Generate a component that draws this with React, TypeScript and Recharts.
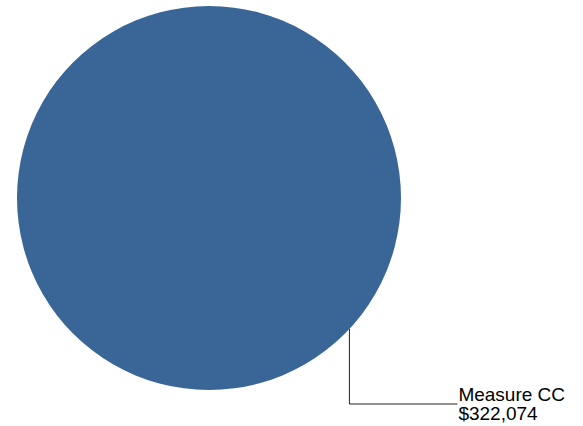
import { PieChart, Pie, Cell } from 'recharts';

const categories = ['Measure CC'];
const values = [322074];
const colors = ['#3A6697'];

const data = categories.map((name, i) => ({ name, value: values[i] }));

const fmt = (v: number) => '$' + v.toLocaleString('en-US');

const RAD = Math.PI / 180;

const renderLabel = (props: any) => {
  const { cx, cy, outerRadius, name, value } = props;
  const angle = 43 * RAD;
  const sx = cx + outerRadius * Math.cos(angle);
  const sy = cy + outerRadius * Math.sin(angle);
  const my = cy + outerRadius + 14;
  const ex = sx + 108;
  return (
    <g>
      <polyline
        points={`${sx},${sy} ${sx},${my} ${ex},${my}`}
        fill="none"
        stroke="#222"
        strokeWidth={1}
      />
      <text x={ex + 1} y={my - 3} fontSize={19} fill="#000" fontFamily="'Liberation Sans', Arial, sans-serif">
        {name}
      </text>
      <text x={ex + 1} y={my + 16} fontSize={19} fill="#000" fontFamily="'Liberation Sans', Arial, sans-serif">
        {fmt(value)}
      </text>
    </g>
  );
};

export default function App() {
  return (
    <div style={{ position: 'absolute', left: 0, top: 0, width: 583, height: 426, background: '#fff' }}>
      <PieChart width={583} height={426} margin={{ top: 0, right: 0, bottom: 0, left: 0 }} style={{ overflow: 'visible' }}>
        <Pie
          data={data}
          dataKey="value"
          nameKey="name"
          cx={209}
          cy={198}
          outerRadius={192}
          startAngle={90}
          endAngle={-270}
          stroke="none"
          label={renderLabel}
          labelLine={false}
          isAnimationActive={false}
        >
          {data.map((d, i) => (
            <Cell key={d.name} fill={colors[i % colors.length]} />
          ))}
        </Pie>
      </PieChart>
    </div>
  );
}
